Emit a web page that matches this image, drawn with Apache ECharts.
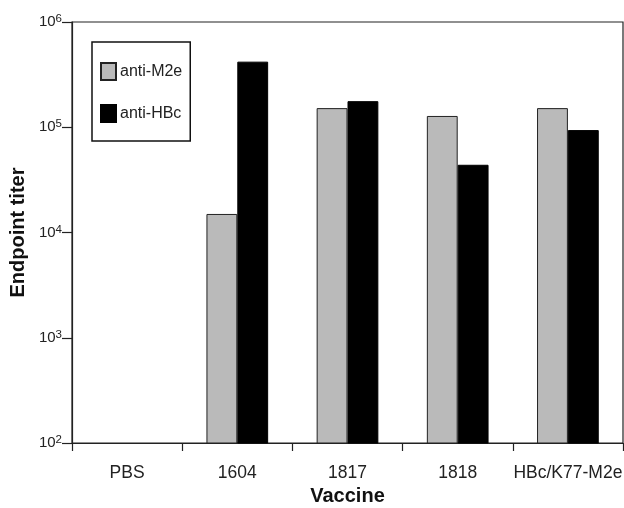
<!DOCTYPE html>
<html><head><meta charset="utf-8">
<script src="https://cdn.jsdelivr.net/npm/echarts@6/dist/echarts.min.js"></script>
<style>html,body{margin:0;padding:0;background:#fff}#c{width:624px;height:508px}</style>
</head><body><div id="c"></div>
<script>
const categories = ['PBS', '1604', '1817', '1818', 'HBc/K77-M2e'];
const antiM2e = [null, 15000, 152000, 128000, 152000];
const antiHBc = [null, 420000, 177000, 44000, 94000];
const seriesNames = ['anti-M2e', 'anti-HBc'];

const chart = echarts.init(document.getElementById('c'), null, {renderer: 'canvas'});
const font = 'Liberation Sans, Arial, Helvetica, sans-serif';
chart.setOption({
  animation: false,
  backgroundColor: '#fff',
  grid: {left: 72, right: 1, top: 22, bottom: 65, containLabel: false, outerBoundsMode: 'none',
         show: true, borderColor: '#222', borderWidth: 1.2, backgroundColor: 'transparent'},
  legend: {
    orient: 'vertical', left: 92, top: 42,
    data: seriesNames,
    backgroundColor: '#fff',
    borderColor: '#111', borderWidth: 1.5,
    padding: [20, 8, 18, 8],
    itemGap: 23, itemWidth: 15, itemHeight: 17,
    icon: 'rect',
    textStyle: {fontFamily: font, fontSize: 16, lineHeight: 17, color: '#222', padding: [0, 0, 0, -1]}
  },
  xAxis: {
    type: 'category', data: categories,
    name: 'Vaccine', nameLocation: 'middle', nameGap: 42,
    nameTextStyle: {fontFamily: font, fontSize: 20, fontWeight: 'bold', color: '#111'},
    axisLine: {lineStyle: {color: '#222', width: 1.2}},
    axisTick: {show: true, alignWithLabel: false, length: 8, lineStyle: {color: '#222', width: 1.2}},
    axisLabel: {fontFamily: font, fontSize: 17.5, color: '#222', margin: 21, interval: 0, hideOverlap: false}
  },
  yAxis: {
    type: 'log', logBase: 10, min: 100, max: 1000000,
    name: 'Endpoint titer', nameLocation: 'middle', nameGap: 43, nameRotate: 90,
    nameTextStyle: {fontFamily: font, fontSize: 20, fontWeight: 'bold', color: '#111'},
    splitLine: {show: false},
    axisLine: {show: true, lineStyle: {color: '#222', width: 1.2}},
    axisTick: {show: true, length: 10, lineStyle: {color: '#222', width: 1.2}},
    minorTick: {show: false},
    axisLabel: {
      fontFamily: font, fontSize: 15, color: '#222', margin: 10,
      formatter: function (v) {
        const e = Math.round(Math.log10(v));
        return '10{sup|' + e + '}';
      },
      rich: {sup: {fontFamily: font, fontSize: 11.5, color: '#222', verticalAlign: 'top', padding: [0, 0, 6, 0]}}
    }
  },
  series: [
    {name: seriesNames[0], type: 'bar', data: antiM2e, barGap: '0%', barCategoryGap: '44%',
     itemStyle: {color: '#bababa', borderColor: '#222', borderWidth: 1}},
    {name: seriesNames[1], type: 'bar', data: antiHBc,
     itemStyle: {color: '#000', borderColor: '#000', borderWidth: 1}}
  ]
});
</script></body></html>
